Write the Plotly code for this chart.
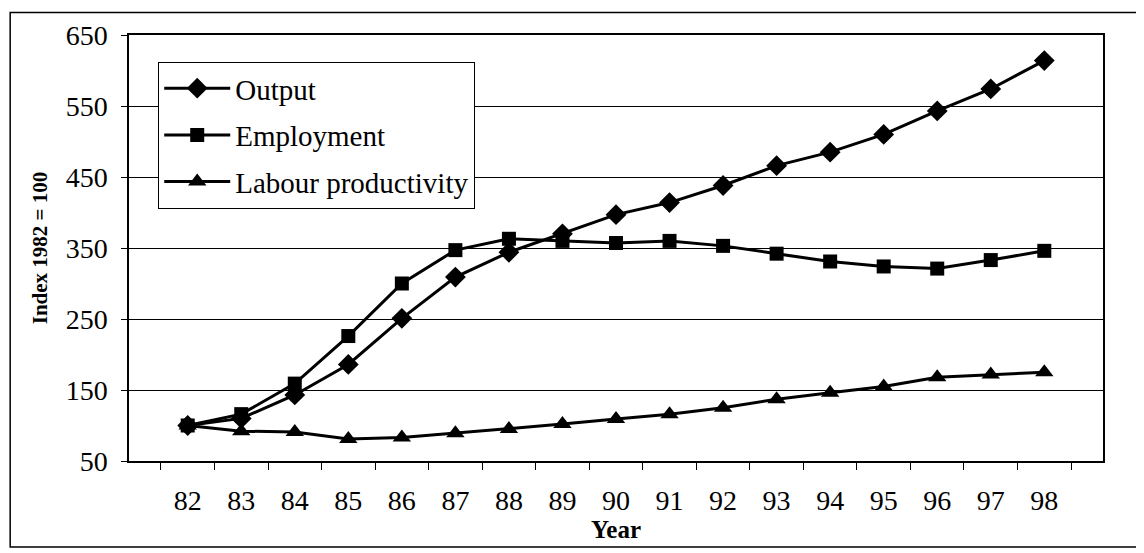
import plotly.graph_objects as go

years = ['82', '83', '84', '85', '86', '87', '88', '89', '90', '91', '92', '93', '94', '95', '96', '97', '98']
output = [100, 110, 143, 186, 251, 309, 344, 370, 397, 414, 438, 466, 485, 510, 543, 574, 614]
employment = [100, 116, 159, 226, 300, 347, 363, 360, 357, 360, 353, 342, 331, 324, 321, 333, 346]
productivity = [100, 92, 91, 81, 83, 89, 95, 102, 109, 116, 125, 137, 146, 155, 168, 172, 175]

serif = "Liberation Serif"

fig = go.Figure()
fig.add_trace(go.Scatter(x=years, y=output, name='Output', mode='lines+markers', legendgroup='a',
                         line=dict(color='black', width=3),
                         marker=dict(symbol='diamond', size=16, color='black')))
fig.add_trace(go.Scatter(x=years, y=employment, name='Employment', mode='lines+markers', legendgroup='b',
                         line=dict(color='black', width=3),
                         marker=dict(symbol='square', size=14, color='black')))
fig.add_trace(go.Scatter(x=years, y=productivity, name='Labour productivity', mode='lines+markers', legendgroup='c',
                         line=dict(color='black', width=3),
                         marker=dict(symbol='triangle-up', size=16, color='black')))

# page body has an 8px margin, so the figure is shrunk and the margins shifted by 8
fig.update_layout(
    width=1136, height=545,
    margin=dict(l=121, r=41, t=23, b=92),
    paper_bgcolor='white', plot_bgcolor='white',
    font=dict(family=serif, color='black', size=28),
    legend=dict(x=0.03, y=0.937, xanchor='left', yanchor='top',
                bgcolor='white', bordercolor='black', borderwidth=1,
                font=dict(size=29), tracegroupgap=6, itemwidth=66),
    shapes=[dict(type='rect', xref='paper', yref='paper', x0=-0.122, x1=1.04, y0=-0.202, y1=1.053,
                 line=dict(color='black', width=1.5))],
)
fig.update_xaxes(type='category', showgrid=False, showline=True, linecolor='black', linewidth=1.5,
                 mirror=True, ticks='outside', ticklen=7, tickcolor='black', tickson='boundaries',
                 ticklabelstandoff=14,
                 title=dict(text='<b>Year</b>', font=dict(size=25), standoff=4))
fig.update_yaxes(range=[50, 650], dtick=100, tick0=50, showgrid=True, gridcolor='black', gridwidth=1,
                 showline=True, linecolor='black', linewidth=1.5, mirror=True, zeroline=False,
                 ticks='outside', ticklen=6, tickcolor='black', ticklabelstandoff=8,
                 title=dict(text='<b>Index 1982 = 100</b>', font=dict(size=21), standoff=12))

fig.write_html("out.html")
